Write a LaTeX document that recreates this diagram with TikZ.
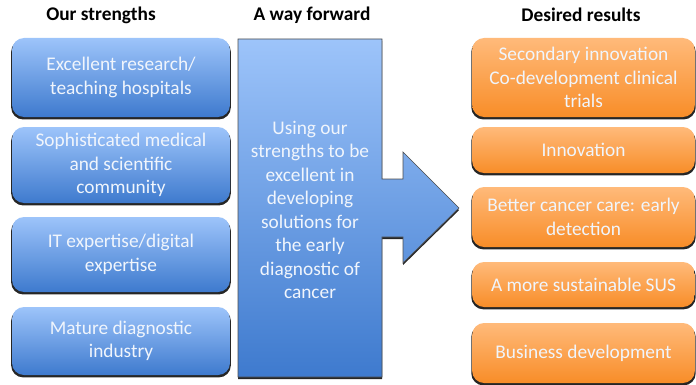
\documentclass[tikz,border=0pt]{standalone}
\usepackage{fontspec}
\setmainfont{Carlito}
\usetikzlibrary{shadows}

\definecolor{bluetop}{RGB}{157,196,250}
\definecolor{bluebot}{RGB}{62,122,206}
\definecolor{orangetop}{RGB}{255,186,122}
\definecolor{orangebot}{RGB}{248,141,40}
\definecolor{boxtext}{RGB}{240,245,252}

\tikzset{every picture/.style={line width=0.75pt}}
\tikzset{
  headtext/.style={inner sep=0.75pt,font=\fontsize{14.5}{17}\selectfont\bfseries},
  boxbase/.style={rounded corners=9pt,align=center,inner sep=2pt,text=boxtext,
    font=\fontsize{14.5}{17.5}\selectfont,
    drop shadow={shadow xshift=0pt,shadow yshift=-1.6pt,shadow scale=1.008,fill=black,opacity=0.85}},
  strengthbox/.style={boxbase,top color=bluetop,bottom color=bluebot,minimum width=163.5pt},
  resultbox/.style={boxbase,top color=orangetop,bottom color=orangebot,minimum width=167pt},
}

\begin{document}
\begin{tikzpicture}[x=0.75pt,y=0.75pt,yscale=-1,xscale=1]
\path (0,0) rectangle (696,385); %set diagram size

%Shape: Arrow [id:way]
\draw [draw=black!70,line width=0.5pt,top color=bluetop,bottom color=bluebot,
  drop shadow={shadow xshift=0pt,shadow yshift=-1.6pt,fill=black,opacity=0.85}]
  (238,39) -- (382,39) -- (382,179) -- (403,179) -- (403,152) -- (459,208) -- (403,263) -- (403,237) -- (382,237) -- (382,377) -- (238,377) -- cycle ;

% Text Node
\draw (101,15) node [headtext] (hstr) {Our strengths};
% Text Node
\draw (312,15) node [headtext] (hway) {A way forward};
% Text Node
\draw (581,15) node [headtext] (hres) {Desired results};

%Shape: Rounded Rect [id:strengths]
\draw (121,77.5) node [strengthbox,minimum height=59.25pt] (s1) {Excellent research/\\teaching hospitals};
\draw (121,165) node [strengthbox,minimum height=57pt] (s2) {Sophisticated medical\\and scientific\\community};
\draw (121,254.5) node [strengthbox,minimum height=56.25pt] (s3) {IT expertise/digital\\expertise};
\draw (121,341) node [strengthbox,minimum height=51pt] (s4) {Mature diagnostic\\industry};

% Text Node
\draw (310,210) node [align=center,text=boxtext,inner sep=0.75pt,font=\fontsize{14.5}{17.6}\selectfont] (way) {Using our\\strengths to be\\excellent in\\developing\\solutions for\\the early\\diagnostic of\\cancer};

%Shape: Rounded Rect [id:results]
\draw (583.5,77.5) node [resultbox,minimum height=59.25pt] (r1) {Secondary innovation\\Co-development clinical\\trials};
\draw (583.5,150) node [resultbox,minimum height=34.5pt] (r2) {Innovation};
\draw (583.5,217) node [resultbox,minimum height=45pt] (r3) {Better cancer care: early\\detection};
\draw (583.5,284.5) node [resultbox,minimum height=33.75pt] (r4) {A more sustainable SUS};
\draw (583.5,353) node [resultbox,minimum height=45pt] (r5) {Business development};

\end{tikzpicture}
\end{document}
